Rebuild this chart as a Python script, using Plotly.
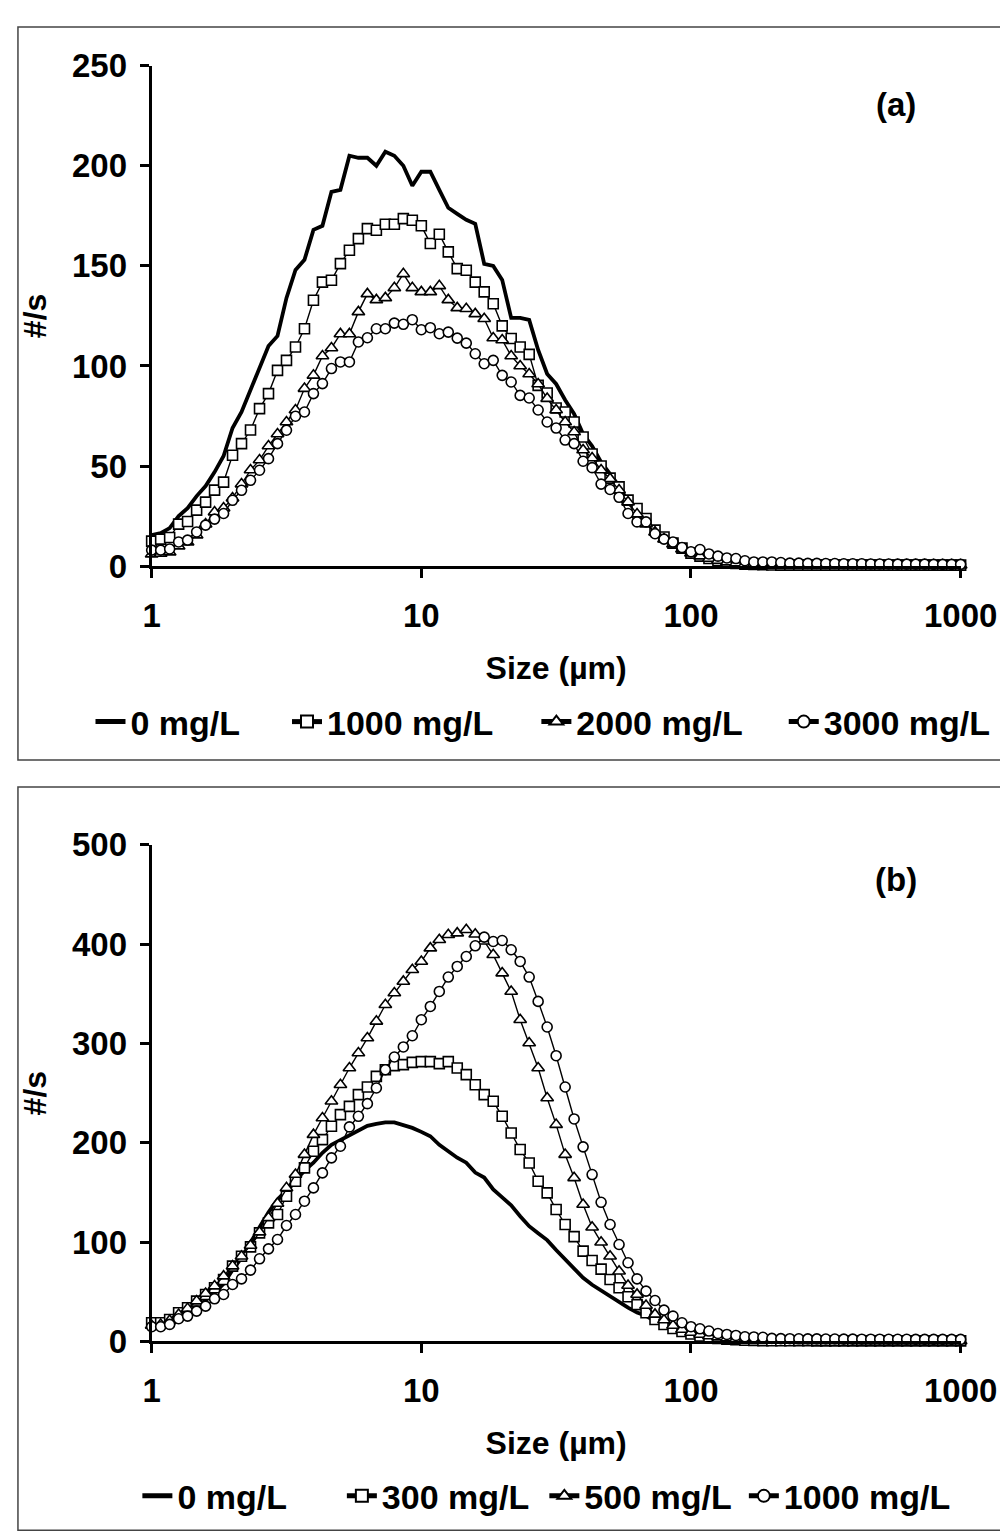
import plotly.graph_objects as go

# Size channels (µm)
size_um = [
    1.000, 1.080, 1.166, 1.259, 1.359, 1.468, 1.585, 1.711, 1.848, 1.995,
    2.154, 2.326, 2.512, 2.712, 2.929, 3.162, 3.415, 3.687, 3.981, 4.299,
    4.642, 5.012, 5.412, 5.843, 6.310, 6.813, 7.356, 7.943, 8.577, 9.261,
    10.00, 10.80, 11.66, 12.59, 13.59, 14.68, 15.85, 17.11, 18.48, 19.95,
    21.54, 23.26, 25.12, 27.12, 29.29, 31.62, 34.15, 36.87, 39.81, 42.99,
    46.42, 50.12, 54.12, 58.43, 63.10, 68.13, 73.56, 79.43, 85.77, 92.61,
    100.0, 108.0, 116.6, 125.9, 135.9, 146.8, 158.5, 171.1, 184.8, 199.5,
    215.4, 232.6, 251.2, 271.2, 292.9, 316.2, 341.5, 368.7, 398.1, 429.9,
    464.2, 501.2, 541.2, 584.3, 631.0, 681.3, 735.6, 794.3, 857.7, 926.1,
    1000.0,
]

# Panel (a)
a_labels = ["0 mg/L", "1000 mg/L", "2000 mg/L", "3000 mg/L"]
a_0 = [
    15.5, 16.5, 19, 25, 29, 35, 40, 47, 55, 69,
    77, 88, 100, 110, 115, 134, 148, 153, 168, 170,
    187, 188, 205, 204, 204, 200, 207, 205, 200, 190,
    197, 197, 188, 179, 176, 173, 171, 151, 150, 143,
    124, 124, 123, 108, 96, 91, 83, 76, 66, 60,
    52, 46, 40, 32, 27, 23, 17.5, 14.5, 11.5, 9.5,
    7.8, 6.2, 5, 4, 3, 2.3, 1.9, 1.6, 1.3, 1.1,
    1.0, 0.8, 0.7, 0.6, 0.5, 0.5, 0.4, 0.4, 0.3, 0.3,
    0.3, 0.2, 0.2, 0.2, 0.2, 0.1, 0.1, 0.1, 0.1, 0.1,
    0.1,
]
a_1000 = [
    12.5, 13.5, 14.3, 21, 22.3, 28, 32, 38, 42, 55.4,
    61.2, 68, 78.7, 86.2, 97.8, 102.8, 109.5, 118.6, 132.8, 141.9,
    142.8, 151.1, 157.8, 163.6, 168.6, 167.8, 170.8, 170.8, 173.6, 172.8,
    170, 161.2, 165.8, 157, 148.6, 147.8, 141.9, 137, 131.1, 120,
    113.7, 109.5, 105.8, 90.3, 86.5, 79, 77, 72, 64.5, 56,
    50, 44, 39.6, 33, 28.8, 23.8, 18, 14.6, 11.5, 9,
    6.5, 5, 3.8, 2.8, 2, 1.3, 1.0, 0.8, 0.7, 0.6,
    0.5, 0.5, 0.5, 0.5, 0.5, 0.5, 0.5, 0.5, 0.5, 0.5,
    0.5, 0.5, 0.5, 0.5, 0.5, 0.5, 0.5, 0.5, 0.5, 0.5,
    0.5,
]
a_2000 = [
    6, 6.3, 7, 10, 12, 15.5, 21, 27, 29, 34,
    41, 48, 53, 60, 66, 72, 78, 88.7, 95.3, 105,
    109, 116, 116, 127, 136, 133, 134, 139, 146, 139,
    137, 137, 140, 133, 129, 128.6, 126, 123.6, 114, 113,
    105, 100, 96, 91, 83.7, 78, 72, 67, 58, 54,
    48, 43.7, 38, 32, 26, 21, 17, 13.5, 11, 8.5,
    6.5, 5, 3.8, 2.8, 2, 1.5, 1.1, 0.9, 0.7, 0.6,
    0.5, 0.5, 0.5, 0.5, 0.5, 0.5, 0.5, 0.5, 0.5, 0.5,
    0.5, 0.5, 0.5, 0.5, 0.5, 0.5, 0.5, 0.5, 0.5, 0.5,
    0.5,
]
a_3000 = [
    8, 8, 8.6, 12.1, 13, 17.1, 20.5, 23.5, 26.3, 32.9,
    37.9, 42.9, 47.9, 53.7, 61.2, 67.9, 74.9, 77, 86.2, 91.2,
    98.7, 102, 102, 112, 114.1, 118.6, 118.6, 121.4, 120.8, 123.1,
    118.1, 119.1, 116.1, 116.9, 113.9, 111.4, 106.1, 101.1, 102.8, 95.3,
    92, 85.3, 84, 78, 72, 69, 63, 61.2, 52.4, 49.2,
    41, 38.3, 34.4, 26.3, 22.1, 22.1, 16.2, 13.5, 12.1, 9.3,
    7.2, 8.3, 6.1, 5, 4.1, 3.8, 2.7, 2.1, 2.1, 2.1,
    1.8, 1.5, 1.5, 1.4, 1.4, 1.3, 1.3, 1.2, 1.2, 1.2,
    1.1, 1.1, 1.1, 1.0, 1.0, 1.0, 1.0, 0.9, 0.9, 0.9,
    0.9,
]

# Panel (b)
b_labels = ["0 mg/L", "300 mg/L", "500 mg/L", "1000 mg/L"]
b_0 = [
    15, 16, 19, 23, 28, 34, 41, 49, 58, 72,
    84, 100, 115, 130, 143, 152, 162, 172, 180, 190,
    198, 203, 208, 213, 217, 219, 220.5, 220.5, 218, 215,
    211, 206.6, 198, 191, 185, 180, 170, 165, 153, 145,
    137, 126, 116, 109, 102, 92, 83, 73, 64, 57,
    51, 46, 40, 34, 29, 26, 20, 16, 13, 10.4,
    8, 6, 4.5, 3.3, 2.5, 1.8, 1.4, 1.1, 0.9, 0.7,
    0.6, 0.5, 0.5, 0.4, 0.4, 0.3, 0.3, 0.3, 0.2, 0.2,
    0.2, 0.2, 0.1, 0.1, 0.1, 0.1, 0.1, 0.1, 0.1, 0.1,
    0.1,
]
b_300 = [
    18.8, 18.8, 22.1, 28.8, 33.9, 40.6, 47.3, 54, 62.4, 75.8,
    85.8, 95.2, 109.3, 119.4, 127.8, 146.2, 161.3, 174.7, 191.5, 203.2,
    216.6, 228.4, 236.7, 248.5, 256.2, 266.9, 273.6, 277.7, 278.7, 281,
    281.7, 281.7, 279.7, 281.7, 275.3, 268.6, 258.5, 248.5, 241.8, 226.7,
    209.9, 193.2, 179.7, 161.3, 149.6, 132.8, 117.7, 105.5, 90.9, 81.5,
    72.8, 62.4, 54, 45, 37, 28.8, 22, 17, 13, 10,
    7.5, 5.5, 4, 3, 2.2, 1.6, 1.2, 1.0, 0.8, 0.7,
    0.6, 0.6, 0.6, 0.6, 0.5, 0.5, 0.5, 0.5, 0.5, 0.5,
    0.5, 0.5, 0.5, 0.5, 0.5, 0.5, 0.5, 0.5, 0.5, 0.5,
    0.5,
]
b_500 = [
    16, 17, 21, 27, 33, 40.6, 48.3, 55.7, 65.7, 75.8,
    85.8, 96.6, 110, 124.4, 138.8, 154.6, 168, 188.1, 208.2, 225,
    241.8, 258.5, 275.3, 290.4, 305.5, 322.3, 339, 350.8, 362.5, 374.2,
    382.6, 396, 404.4, 409.5, 411.1, 414.5, 410, 403, 389.3, 370.9,
    352.4, 323.9, 300.5, 275.3, 245.1, 218.3, 188.1, 164.7, 137.8, 115,
    99.9, 85.8, 70.7, 56.3, 47.3, 36.2, 27.2, 21.5, 16, 12,
    9, 7, 5.5, 4.3, 3.3, 2.6, 2, 1.6, 1.3, 1.1,
    1.0, 0.9, 0.8, 0.8, 0.7, 0.7, 0.6, 0.6, 0.6, 0.5,
    0.5, 0.5, 0.5, 0.5, 0.5, 0.5, 0.5, 0.5, 0.5, 0.5,
    0.5,
]
b_1000 = [
    14.8, 14.8, 17.1, 22.8, 25.5, 30.5, 35.5, 42.9, 47.3, 57.3,
    63, 71.8, 83.2, 93.2, 102.6, 116.7, 127.8, 141.2, 154.6, 169.7,
    184.8, 196.5, 216, 226.7, 239.4, 255.2, 273.6, 286.4, 296.5, 307.8,
    323.9, 337.3, 352.4, 366.9, 377.6, 387.6, 398.4, 407.1, 402.7, 403.7,
    394.4, 382.6, 366.9, 342.4, 316.6, 287.7, 256.2, 224, 195.9, 168,
    140.1, 117.7, 97.6, 79.2, 63, 50.6, 41.2, 31.5, 25.5, 18.8,
    14.8, 12.7, 10.4, 8, 7, 6, 4.7, 4.5, 4.2, 3,
    2.8, 2.7, 2.6, 2.5, 2.5, 2.4, 2.4, 2.3, 2.3, 2.2,
    2.2, 2.2, 2.1, 2.1, 2.1, 2.0, 2.0, 2.0, 2.0, 2.0,
    2.0,
]

x_ticks = [1, 10, 100, 1000]
x_ticktext = ["1", "10", "100", "1000"]
a_yticks = [0, 50, 100, 150, 200, 250]
b_yticks = [0, 100, 200, 300, 400, 500]

# Figure size and a mapping from target picture pixels to paper fractions
W, H = 1036, 1544
SX, OX = 0.958, 16.0
SY, OY = 0.977, 25.3
FONT = "Liberation Sans, Arial, sans-serif"


def fig_px_x(p):
    return (p - OX) / SX


def fig_px_y(p):
    return (p - OY) / SY


def px_x(p):
    return fig_px_x(p) / W


def px_y(p):
    return 1 - fig_px_y(p) / H


symbols = [None, "square", "triangle-up", "circle"]

fig = go.Figure()

panels = [
    (a_labels, [a_0, a_1000, a_2000, a_3000], "x", "y", 0),
    (b_labels, [b_0, b_300, b_500, b_1000], "x2", "y2", 4),
]

# legend text starting positions (px) for each panel, and legend rows (px)
legend_text_x = [[128, 325, 575, 823], [175, 380, 583, 783]]
legend_row_y = [722, 1497]

for p, (labels, series, xa, ya, off) in enumerate(panels):
    for k, (lab, vals) in enumerate(zip(labels, series)):
        lg = "legend" if off + k == 0 else f"legend{off + k + 1}"
        if k == 0:
            fig.add_trace(go.Scatter(
                x=size_um, y=vals, name=lab, mode="lines",
                line=dict(color="black", width=3.8),
                xaxis=xa, yaxis=ya, legend=lg, cliponaxis=False,
            ))
        else:
            fig.add_trace(go.Scatter(
                x=size_um, y=vals, name=lab, mode="lines+markers",
                line=dict(color="black", width=1.4),
                marker=dict(symbol=symbols[k], size=10 if k != 2 else 11,
                            color="white", line=dict(color="black", width=1.6)),
                xaxis=xa, yaxis=ya, legend=lg, cliponaxis=False,
            ))
        fig.layout[lg] = dict(
            x=(fig_px_x(legend_text_x[p][k]) - 40) / W, xanchor="left",
            y=px_y(legend_row_y[p]), yanchor="middle",
            orientation="h", bgcolor="rgba(0,0,0,0)", itemsizing="constant",
            font=dict(family=FONT, size=34, color="black", weight="bold"),
        )

axis_common = dict(
    showgrid=False, zeroline=False, showline=True, linecolor="black", linewidth=3,
    ticks="outside", ticklen=9, tickwidth=3, tickcolor="black", mirror=False,
    tickfont=dict(family=FONT, size=33, color="black", weight="bold"),
)
title_font = dict(family=FONT, size=32, color="black", weight="bold")

xdom = [px_x(151), px_x(962)]
fig.update_layout(
    width=W, height=H, margin=dict(l=0, r=0, t=0, b=0),
    paper_bgcolor="white", plot_bgcolor="white",
    showlegend=True,
    xaxis=dict(type="log", range=[0, 3], domain=xdom, anchor="y",
               tickvals=x_ticks, ticktext=x_ticktext, ticklabelstandoff=9,
               title=dict(text="Size (µm)", standoff=24, font=title_font),
               **axis_common),
    yaxis=dict(range=[0, 250], domain=[px_y(566), px_y(65)], anchor="x",
               tickvals=a_yticks, ticklabelstandoff=6,
               title=dict(text="#/s", standoff=16, font=title_font),
               **axis_common),
    xaxis2=dict(type="log", range=[0, 3], domain=xdom, anchor="y2",
                tickvals=x_ticks, ticktext=x_ticktext, ticklabelstandoff=9,
                title=dict(text="Size (µm)", standoff=24, font=title_font),
                **axis_common),
    yaxis2=dict(range=[0, 500], domain=[px_y(1342), px_y(845)], anchor="x2",
                tickvals=b_yticks, ticklabelstandoff=6,
                title=dict(text="#/s", standoff=16, font=title_font),
                **axis_common),
)

# panel labels
for txt, yy in [("(a)", 104), ("(b)", 880)]:
    fig.add_annotation(x=px_x(897), y=px_y(yy), xref="paper", yref="paper",
                       text=txt, showarrow=False, xanchor="center", yanchor="middle",
                       font=dict(family=FONT, size=33, color="black", weight="bold"))

# outer frames of each panel
for top, bot in [(11.5, 760), (787, 1531)]:
    fig.add_shape(type="rect", xref="paper", yref="paper",
                  x0=max(px_x(7.5), 1 / W), x1=px_x(1006),
                  y0=px_y(bot), y1=min(px_y(top), 1 - 1 / H),
                  line=dict(color="#444444", width=1.5), fillcolor="rgba(0,0,0,0)",
                  layer="below")

fig.write_html("out.html")
